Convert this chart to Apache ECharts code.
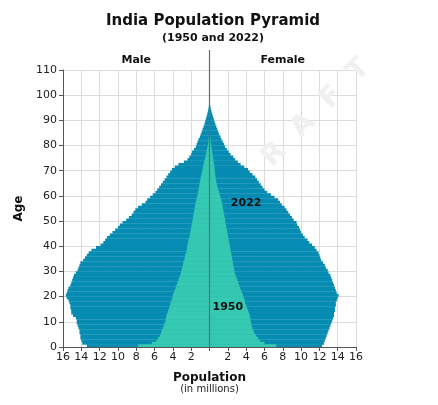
<!DOCTYPE html>
<html>
<head>
<meta charset="utf-8">
<script src="https://cdn.jsdelivr.net/npm/echarts@6/dist/echarts.min.js"></script>
<style>
  html, body { margin: 0; padding: 0; background: #fff; }
  #chart { width: 438px; height: 405px; }
</style>
</head>
<body>
<div id="chart"></div>
<script>
// 年龄 0..100，单位：百万人
const ages = [];
for (let a = 0; a < 110; a++) ages.push(String(a));

const male2022 = [13.4, 13.9, 14.0, 14.1, 14.1, 14.2, 14.2, 14.3, 14.4, 14.5,
  14.5, 14.6, 14.9, 15.1, 15.1, 15.2, 15.2, 15.3, 15.4, 15.6,
  15.7, 15.6, 15.5, 15.4, 15.2, 15.1, 15.0, 14.9, 14.8, 14.6,
  14.4, 14.3, 14.2, 14.1, 13.8, 13.6, 13.4, 13.2, 12.9, 12.4,
  11.9, 11.6, 11.4, 11.2, 10.9, 10.6, 10.3, 10.0, 9.8, 9.5,
  9.1, 8.8, 8.5, 8.3, 8.1, 7.8, 7.4, 7.0, 6.8, 6.5,
  6.2, 5.9, 5.7, 5.5, 5.3, 5.1, 4.9, 4.7, 4.5, 4.3,
  4.1, 3.8, 3.4, 2.8, 2.4, 2.2, 2.0, 1.9, 1.7, 1.5,
  1.4, 1.3, 1.2, 1.05, 0.95, 0.85, 0.75, 0.65, 0.55, 0.48,
  0.40, 0.32, 0.25, 0.18, 0.12, 0.07, 0.04, 0.02, 0.01, 0.01, 0.01];

const female2022 = [12.3, 12.5, 12.6, 12.7, 12.8, 12.9, 13.0, 13.1, 13.2, 13.3,
  13.4, 13.5, 13.6, 13.6, 13.7, 13.7, 13.8, 13.8, 13.9, 14.0,
  14.1, 13.9, 13.8, 13.7, 13.6, 13.5, 13.4, 13.3, 13.2, 13.0,
  12.9, 12.7, 12.6, 12.4, 12.2, 12.1, 12.0, 11.9, 11.7, 11.5,
  11.2, 10.9, 10.7, 10.4, 10.2, 10.0, 9.9, 9.8, 9.6, 9.5,
  9.2, 9.0, 8.8, 8.6, 8.4, 8.2, 7.9, 7.7, 7.5, 7.1,
  6.7, 6.3, 6.0, 5.8, 5.6, 5.4, 5.2, 5.0, 4.7, 4.4,
  4.2, 3.8, 3.4, 3.1, 2.8, 2.6, 2.3, 2.1, 1.9, 1.7,
  1.6, 1.45, 1.3, 1.2, 1.05, 0.95, 0.85, 0.75, 0.65, 0.55,
  0.47, 0.38, 0.30, 0.22, 0.15, 0.09, 0.05, 0.03, 0.02, 0.01, 0.01];

const male1950 = [7.8, 6.3, 5.8, 5.6, 5.4, 5.3, 5.2, 5.1, 5.0, 4.9,
  4.8, 4.75, 4.7, 4.6, 4.5, 4.4, 4.3, 4.25, 4.15, 4.05,
  4.0, 3.9, 3.8, 3.7, 3.6, 3.5, 3.4, 3.3, 3.2, 3.1,
  3.05, 3.0, 2.9, 2.85, 2.75, 2.7, 2.65, 2.55, 2.5, 2.45,
  2.4, 2.35, 2.3, 2.2, 2.15, 2.1, 2.05, 2.0, 1.95, 1.9,
  1.85, 1.8, 1.75, 1.7, 1.65, 1.6, 1.55, 1.5, 1.42, 1.38,
  1.3, 1.25, 1.2, 1.15, 1.1, 1.05, 1.0, 0.95, 0.88, 0.82,
  0.76, 0.7, 0.64, 0.58, 0.52, 0.46, 0.4, 0.34, 0.28, 0.22,
  0.17, 0.13, 0.1, 0.07, 0.05, 0.04, 0.03, 0.02, 0.02, 0.01, 0.01];

const female1950 = [7.3, 6.0, 5.5, 5.3, 5.1, 4.9, 4.8, 4.7, 4.6, 4.55,
  4.5, 4.45, 4.4, 4.3, 4.2, 4.1, 4.0, 3.9, 3.85, 3.75,
  3.65, 3.55, 3.45, 3.35, 3.25, 3.15, 3.05, 2.95, 2.85, 2.75,
  2.7, 2.65, 2.6, 2.55, 2.5, 2.45, 2.4, 2.35, 2.3, 2.25,
  2.2, 2.15, 2.1, 2.05, 2.0, 1.95, 1.9, 1.85, 1.8, 1.75,
  1.7, 1.65, 1.6, 1.55, 1.5, 1.45, 1.4, 1.33, 1.28, 1.2,
  1.12, 1.04, 0.96, 0.88, 0.8, 0.74, 0.7, 0.66, 0.62, 0.59,
  0.56, 0.53, 0.5, 0.46, 0.42, 0.38, 0.34, 0.3, 0.26, 0.22,
  0.18, 0.14, 0.11, 0.08, 0.06, 0.05, 0.04, 0.03, 0.02, 0.02, 0.01];

const xTicks = { min: -16, max: 16, step: 2 };
const yTicks = { min: 0, max: 110, step: 10 };

const blue = '#068bb2';
const teal = '#35c9b2';
const font = 'DejaVu Sans, Verdana, sans-serif';

function barSeries(name, data, color, sign) {
  return {
    name: name,
    type: 'bar',
    xAxisIndex: 0,
    yAxisIndex: 1,
    barGap: '-100%',
    barWidth: '112%',
    silent: true,
    itemStyle: { color: color },
    data: data.map(v => sign * v),
    z: 3
  };
}

const chart = echarts.init(document.getElementById('chart'), null, { renderer: 'canvas' });

const option = {
  animation: false,
  textStyle: { fontFamily: font },
  title: {
    text: 'India Population Pyramid',
    subtext: '(1950 and 2022)',
    left: 208,
    textAlign: 'center',
    top: 9,
    itemGap: 4,
    textStyle: { fontFamily: font, fontSize: 15, fontWeight: 'bold', color: '#111' },
    subtextStyle: { fontFamily: font, fontSize: 11, fontWeight: 'bold', color: '#111' }
  },
  grid: { left: 63, right: 82, top: 70, bottom: 58 },
  xAxis: {
    type: 'value',
    min: xTicks.min,
    max: xTicks.max,
    interval: xTicks.step,
    name: '{a|Population}\n{b|(in millions)}',
    nameLocation: 'middle',
    nameGap: 24,
    nameTextStyle: {
      rich: {
        a: { fontFamily: font, fontSize: 12, fontWeight: 'bold', color: '#111', lineHeight: 13 },
        b: { fontFamily: font, fontSize: 10, color: '#222', lineHeight: 11 }
      }
    },
    axisLine: { show: true, onZero: false, lineStyle: { color: '#555', width: 1 } },
    axisTick: { show: true, length: 4, lineStyle: { color: '#555' } },
    axisLabel: {
      fontFamily: font, fontSize: 11, color: '#222', margin: 5,
      formatter: v => (v === 0 ? '' : String(Math.abs(v)))
    },
    splitLine: { show: true, lineStyle: { color: '#dcdcdc', width: 1 } }
  },
  yAxis: [
    {
      type: 'value',
      min: yTicks.min,
      max: yTicks.max,
      interval: yTicks.step,
      name: 'Age',
      nameLocation: 'middle',
      nameGap: 28,
      nameRotate: 90,
      nameTextStyle: { fontFamily: font, fontSize: 12, fontWeight: 'bold', color: '#111' },
      axisLine: { show: true, onZero: false, lineStyle: { color: '#555', width: 1 } },
      axisTick: { show: true, length: 4, lineStyle: { color: '#555' } },
      axisLabel: { fontFamily: font, fontSize: 11, color: '#222', margin: 6 },
      splitLine: { show: true, lineStyle: { color: '#dcdcdc', width: 1 } }
    },
    {
      type: 'category',
      data: ages,
      show: false,
      boundaryGap: true
    }
  ],
  series: [
    barSeries('Male 2022', male2022, blue, -1),
    barSeries('Female 2022', female2022, blue, 1),
    barSeries('Male 1950', male1950, teal, -1),
    barSeries('Female 1950', female1950, teal, 1)
  ]
};

chart.setOption(option);

// 中线、标签、水印
const px = v => chart.convertToPixel({ xAxisIndex: 0 }, v);
const py = v => chart.convertToPixel({ yAxisIndex: 0 }, v);

const x0 = px(0);
const yTop = py(yTicks.max);
const yBot = py(yTicks.min);

chart.setOption({
  graphic: [
    {
      type: 'text',
      z: 1,
      x: 301, y: 128,
      rotation: 0.785,
      style: {
        text: 'D  R  A  F  T',
        fontFamily: font, fontSize: 28, fontWeight: 'bold',
        fill: '#f0f0f0', align: 'center', verticalAlign: 'middle'
      }
    },
    {
      type: 'line',
      z: 10,
      shape: { x1: x0, y1: yTop - 20, x2: x0, y2: yBot },
      style: { stroke: '#6b6b6b', lineWidth: 1.2 }
    },
    {
      type: 'text', z: 10,
      x: px(-8), y: yTop - 10,
      style: { text: 'Male', fontFamily: font, fontSize: 11, fontWeight: 'bold', fill: '#111', align: 'center', verticalAlign: 'middle' }
    },
    {
      type: 'text', z: 10,
      x: px(8), y: yTop - 10,
      style: { text: 'Female', fontFamily: font, fontSize: 11, fontWeight: 'bold', fill: '#111', align: 'center', verticalAlign: 'middle' }
    },
    {
      type: 'text', z: 10,
      x: px(4), y: py(57),
      style: { text: '2022', fontFamily: font, fontSize: 11, fontWeight: 'bold', fill: '#111', align: 'center', verticalAlign: 'middle' }
    },
    {
      type: 'text', z: 10,
      x: px(2), y: py(15.8),
      style: { text: '1950', fontFamily: font, fontSize: 11, fontWeight: 'bold', fill: '#111', align: 'center', verticalAlign: 'middle' }
    }
  ]
});
</script>
</body>
</html>
